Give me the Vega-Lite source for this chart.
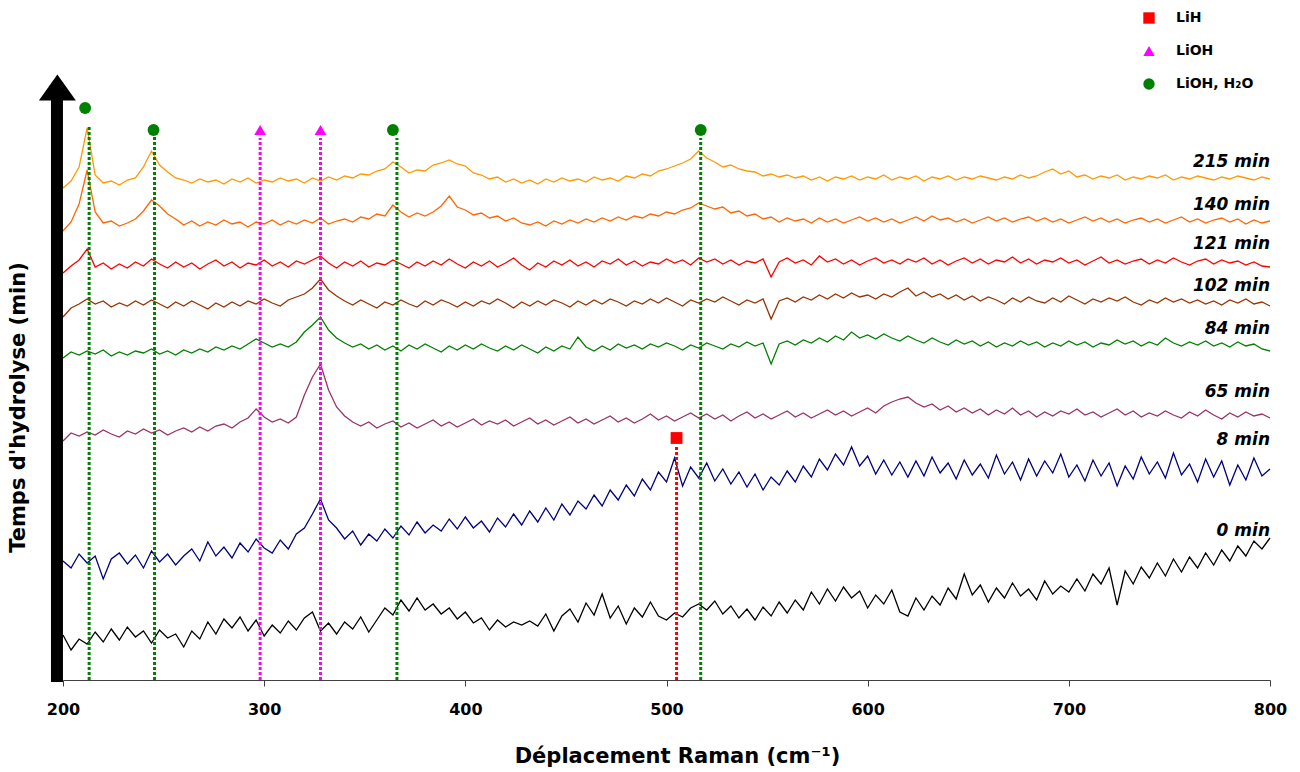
{
"$schema": "https://vega.github.io/schema/vega-lite/v6.json",
"width": 1207, "height": 670,
"autosize": {"type": "none"},
"padding": {"left": 63, "top": 10, "right": 30, "bottom": 92},
"background": "white",
"config": {"view": {"stroke": null}, "font": "DejaVu Sans"},
"datasets": {
"spectres": [
{"x":200,"a":492,"b":449,"c":407,"d":363,"e":322,"f":239,"g":119,"h":45},
{"x":204,"a":499,"b":458,"c":414,"d":372,"e":328,"f":247,"g":112,"h":30},
{"x":208,"a":513,"b":476,"c":420,"d":376,"e":325,"f":244,"g":126,"h":41},
{"x":212,"a":552,"b":510,"c":431,"d":381,"e":329,"f":248,"g":117,"h":36},
{"x":216,"a":505,"b":468,"c":413,"d":376,"e":326,"f":245,"g":124,"h":48},
{"x":220,"a":497,"b":457,"c":417,"d":379,"e":330,"f":250,"g":101,"h":38},
{"x":224,"a":499,"b":459,"c":411,"d":373,"e":324,"f":246,"g":121,"h":51},
{"x":228,"a":495,"b":454,"c":416,"d":377,"e":328,"f":243,"g":127,"h":40},
{"x":232,"a":500,"b":457,"c":412,"d":374,"e":325,"f":249,"g":116,"h":53},
{"x":236,"a":502,"b":461,"c":418,"d":379,"e":329,"f":246,"g":125,"h":43},
{"x":240,"a":513,"b":469,"c":414,"d":375,"e":327,"f":251,"g":112,"h":49},
{"x":244,"a":529,"b":480,"c":421,"d":380,"e":331,"f":247,"g":129,"h":37},
{"x":248,"a":515,"b":474,"c":416,"d":376,"e":326,"f":250,"g":118,"h":50},
{"x":252,"a":508,"b":466,"c":412,"d":372,"e":329,"f":245,"g":126,"h":42},
{"x":256,"a":502,"b":461,"c":418,"d":378,"e":325,"f":249,"g":115,"h":46},
{"x":260,"a":500,"b":455,"c":413,"d":374,"e":330,"f":252,"g":124,"h":33},
{"x":264,"a":497,"b":459,"c":417,"d":379,"e":327,"f":248,"g":131,"h":49},
{"x":268,"a":501,"b":454,"c":411,"d":375,"e":331,"f":253,"g":119,"h":41},
{"x":272,"a":498,"b":458,"c":416,"d":371,"e":328,"f":249,"g":138,"h":58},
{"x":276,"a":500,"b":455,"c":420,"d":377,"e":333,"f":254,"g":124,"h":46},
{"x":280,"a":496,"b":460,"c":414,"d":373,"e":330,"f":256,"g":133,"h":61},
{"x":284,"a":501,"b":456,"c":418,"d":378,"e":334,"f":252,"g":122,"h":52},
{"x":288,"a":498,"b":458,"c":412,"d":374,"e":331,"f":258,"g":137,"h":63},
{"x":292,"a":502,"b":453,"c":417,"d":379,"e":336,"f":262,"g":128,"h":49},
{"x":296,"a":497,"b":458,"c":415,"d":376,"e":341,"f":271,"g":141,"h":60},
{"x":300,"a":500,"b":456,"c":420,"d":381,"e":337,"f":263,"g":132,"h":44},
{"x":304,"a":498,"b":460,"c":414,"d":377,"e":333,"f":258,"g":127,"h":55},
{"x":308,"a":502,"b":455,"c":418,"d":374,"e":336,"f":261,"g":140,"h":47},
{"x":312,"a":499,"b":459,"c":413,"d":380,"e":333,"f":257,"g":131,"h":59},
{"x":316,"a":501,"b":456,"c":419,"d":383,"e":338,"f":263,"g":146,"h":50},
{"x":320,"a":497,"b":460,"c":416,"d":386,"e":348,"f":285,"g":152,"h":62},
{"x":324,"a":502,"b":457,"c":420,"d":392,"e":355,"f":303,"g":166,"h":68},
{"x":328,"a":499,"b":462,"c":424,"d":401,"e":363,"f":316,"g":181,"h":49},
{"x":332,"a":503,"b":456,"c":417,"d":390,"e":350,"f":290,"g":160,"h":57},
{"x":336,"a":500,"b":459,"c":412,"d":384,"e":342,"f":273,"g":152,"h":46},
{"x":340,"a":504,"b":461,"c":418,"d":379,"e":337,"f":264,"g":141,"h":58},
{"x":344,"a":502,"b":458,"c":414,"d":375,"e":333,"f":258,"g":149,"h":51},
{"x":348,"a":506,"b":463,"c":419,"d":380,"e":336,"f":254,"g":135,"h":63},
{"x":352,"a":505,"b":461,"c":413,"d":376,"e":331,"f":258,"g":146,"h":48},
{"x":356,"a":509,"b":466,"c":417,"d":372,"e":335,"f":252,"g":139,"h":60},
{"x":360,"a":511,"b":464,"c":415,"d":378,"e":330,"f":256,"g":151,"h":72},
{"x":364,"a":518,"b":475,"c":420,"d":375,"e":334,"f":259,"g":142,"h":65},
{"x":368,"a":513,"b":468,"c":416,"d":380,"e":329,"f":253,"g":154,"h":80},
{"x":372,"a":507,"b":463,"c":412,"d":376,"e":335,"f":257,"g":145,"h":69},
{"x":376,"a":510,"b":467,"c":418,"d":373,"e":331,"f":252,"g":158,"h":82},
{"x":380,"a":509,"b":464,"c":414,"d":379,"e":336,"f":256,"g":147,"h":70},
{"x":384,"a":515,"b":468,"c":419,"d":375,"e":332,"f":260,"g":155,"h":76},
{"x":388,"a":517,"b":474,"c":415,"d":380,"e":328,"f":254,"g":149,"h":66},
{"x":392,"a":520,"b":484,"c":421,"d":377,"e":334,"f":258,"g":161,"h":72},
{"x":396,"a":516,"b":473,"c":416,"d":373,"e":330,"f":253,"g":151,"h":61},
{"x":400,"a":514,"b":470,"c":412,"d":378,"e":335,"f":257,"g":163,"h":68},
{"x":404,"a":507,"b":465,"c":418,"d":374,"e":331,"f":261,"g":152,"h":57},
{"x":408,"a":505,"b":467,"c":414,"d":379,"e":336,"f":255,"g":159,"h":62},
{"x":412,"a":501,"b":462,"c":419,"d":376,"e":332,"f":259,"g":148,"h":50},
{"x":416,"a":503,"b":464,"c":413,"d":381,"e":329,"f":256,"g":162,"h":60},
{"x":420,"a":498,"b":459,"c":417,"d":377,"e":334,"f":260,"g":153,"h":53},
{"x":424,"a":501,"b":462,"c":422,"d":372,"e":330,"f":254,"g":166,"h":58},
{"x":428,"a":497,"b":457,"c":415,"d":378,"e":335,"f":258,"g":155,"h":55},
{"x":432,"a":500,"b":455,"c":410,"d":374,"e":331,"f":262,"g":169,"h":59},
{"x":436,"a":496,"b":458,"c":417,"d":379,"e":327,"f":256,"g":158,"h":54},
{"x":440,"a":501,"b":454,"c":413,"d":375,"e":333,"f":260,"g":172,"h":66},
{"x":444,"a":498,"b":459,"c":419,"d":380,"e":329,"f":255,"g":160,"h":49},
{"x":448,"a":502,"b":456,"c":415,"d":377,"e":334,"f":259,"g":176,"h":64},
{"x":452,"a":499,"b":460,"c":420,"d":373,"e":331,"f":263,"g":165,"h":71},
{"x":456,"a":501,"b":457,"c":414,"d":379,"e":343,"f":257,"g":179,"h":58},
{"x":460,"a":498,"b":461,"c":418,"d":375,"e":333,"f":261,"g":171,"h":77},
{"x":464,"a":503,"b":458,"c":413,"d":380,"e":329,"f":256,"g":185,"h":65},
{"x":468,"a":500,"b":462,"c":419,"d":376,"e":334,"f":260,"g":174,"h":86},
{"x":472,"a":502,"b":459,"c":416,"d":381,"e":330,"f":264,"g":190,"h":62},
{"x":476,"a":499,"b":463,"c":421,"d":378,"e":336,"f":258,"g":180,"h":74},
{"x":480,"a":504,"b":460,"c":415,"d":374,"e":332,"f":262,"g":195,"h":56},
{"x":484,"a":502,"b":464,"c":419,"d":379,"e":335,"f":257,"g":184,"h":72},
{"x":488,"a":506,"b":462,"c":414,"d":376,"e":331,"f":261,"g":201,"h":63},
{"x":492,"a":504,"b":466,"c":418,"d":381,"e":336,"f":266,"g":190,"h":78},
{"x":496,"a":509,"b":464,"c":416,"d":377,"e":333,"f":260,"g":208,"h":64},
{"x":500,"a":511,"b":468,"c":421,"d":382,"e":337,"f":264,"g":198,"h":60},
{"x":504,"a":514,"b":466,"c":417,"d":378,"e":334,"f":259,"g":222,"h":67},
{"x":508,"a":517,"b":470,"c":420,"d":374,"e":330,"f":263,"g":194,"h":63},
{"x":512,"a":521,"b":472,"c":415,"d":380,"e":335,"f":267,"g":213,"h":72},
{"x":516,"a":529,"b":477,"c":422,"d":377,"e":332,"f":262,"g":202,"h":76},
{"x":520,"a":522,"b":474,"c":418,"d":381,"e":337,"f":266,"g":217,"h":70},
{"x":524,"a":518,"b":471,"c":421,"d":378,"e":334,"f":261,"g":199,"h":79},
{"x":528,"a":513,"b":473,"c":416,"d":383,"e":331,"f":265,"g":211,"h":66},
{"x":532,"a":515,"b":467,"c":420,"d":379,"e":336,"f":259,"g":196,"h":74},
{"x":536,"a":511,"b":469,"c":415,"d":375,"e":333,"f":264,"g":208,"h":62},
{"x":540,"a":509,"b":464,"c":419,"d":380,"e":338,"f":268,"g":193,"h":71},
{"x":544,"a":508,"b":466,"c":417,"d":377,"e":334,"f":262,"g":206,"h":60},
{"x":548,"a":504,"b":461,"c":421,"d":381,"e":337,"f":266,"g":190,"h":73},
{"x":552,"a":506,"b":463,"c":403,"d":361,"e":316,"f":261,"g":203,"h":64},
{"x":556,"a":503,"b":458,"c":418,"d":379,"e":336,"f":265,"g":195,"h":78},
{"x":560,"a":505,"b":462,"c":422,"d":382,"e":339,"f":269,"g":209,"h":67},
{"x":564,"a":502,"b":459,"c":417,"d":378,"e":335,"f":263,"g":198,"h":80},
{"x":568,"a":504,"b":461,"c":420,"d":383,"e":340,"f":267,"g":214,"h":70},
{"x":572,"a":500,"b":457,"c":415,"d":380,"e":337,"f":262,"g":203,"h":88},
{"x":576,"a":503,"b":462,"c":424,"d":385,"e":342,"f":266,"g":221,"h":76},
{"x":580,"a":499,"b":458,"c":418,"d":381,"e":338,"f":270,"g":210,"h":91},
{"x":584,"a":503,"b":461,"c":421,"d":386,"e":344,"f":265,"g":226,"h":79},
{"x":588,"a":501,"b":457,"c":416,"d":382,"e":340,"f":269,"g":215,"h":93},
{"x":592,"a":504,"b":460,"c":420,"d":387,"e":348,"f":264,"g":233,"h":82},
{"x":596,"a":500,"b":463,"c":415,"d":383,"e":342,"f":268,"g":214,"h":89},
{"x":600,"a":503,"b":459,"c":419,"d":385,"e":345,"f":272,"g":224,"h":72},
{"x":604,"a":501,"b":462,"c":422,"d":381,"e":341,"f":267,"g":206,"h":85},
{"x":608,"a":505,"b":458,"c":417,"d":386,"e":346,"f":274,"g":220,"h":76},
{"x":612,"a":500,"b":461,"c":420,"d":383,"e":342,"f":278,"g":205,"h":90},
{"x":616,"a":503,"b":457,"c":416,"d":388,"e":339,"f":281,"g":218,"h":68},
{"x":620,"a":501,"b":460,"c":421,"d":392,"e":344,"f":283,"g":203,"h":64},
{"x":624,"a":504,"b":463,"c":418,"d":384,"e":340,"f":277,"g":219,"h":82},
{"x":628,"a":499,"b":459,"c":422,"d":388,"e":337,"f":273,"g":204,"h":70},
{"x":632,"a":503,"b":464,"c":416,"d":383,"e":342,"f":276,"g":223,"h":84},
{"x":636,"a":501,"b":460,"c":420,"d":386,"e":338,"f":270,"g":207,"h":75},
{"x":640,"a":504,"b":462,"c":415,"d":381,"e":335,"f":274,"g":217,"h":92},
{"x":644,"a":500,"b":458,"c":419,"d":385,"e":340,"f":268,"g":201,"h":81},
{"x":648,"a":503,"b":461,"c":422,"d":380,"e":336,"f":272,"g":220,"h":106},
{"x":652,"a":501,"b":457,"c":417,"d":384,"e":339,"f":267,"g":205,"h":85},
{"x":656,"a":504,"b":460,"c":421,"d":379,"e":334,"f":271,"g":216,"h":95},
{"x":660,"a":502,"b":463,"c":416,"d":383,"e":338,"f":265,"g":202,"h":78},
{"x":664,"a":500,"b":459,"c":420,"d":380,"e":333,"f":270,"g":225,"h":92},
{"x":668,"a":503,"b":462,"c":418,"d":376,"e":337,"f":266,"g":206,"h":82},
{"x":672,"a":501,"b":458,"c":423,"d":382,"e":334,"f":272,"g":218,"h":97},
{"x":676,"a":505,"b":461,"c":417,"d":378,"e":339,"f":265,"g":200,"h":84},
{"x":680,"a":502,"b":463,"c":421,"d":383,"e":335,"f":269,"g":221,"h":91},
{"x":684,"a":504,"b":459,"c":416,"d":379,"e":338,"f":263,"g":204,"h":80},
{"x":688,"a":508,"b":462,"c":420,"d":377,"e":333,"f":268,"g":219,"h":99},
{"x":692,"a":511,"b":458,"c":418,"d":382,"e":337,"f":264,"g":207,"h":86},
{"x":696,"a":506,"b":461,"c":422,"d":378,"e":334,"f":269,"g":226,"h":94},
{"x":700,"a":509,"b":457,"c":417,"d":384,"e":339,"f":266,"g":203,"h":88},
{"x":704,"a":503,"b":460,"c":420,"d":380,"e":335,"f":271,"g":215,"h":101},
{"x":708,"a":505,"b":463,"c":415,"d":376,"e":338,"f":265,"g":199,"h":89},
{"x":712,"a":501,"b":459,"c":419,"d":381,"e":333,"f":268,"g":220,"h":106},
{"x":716,"a":504,"b":462,"c":423,"d":378,"e":337,"f":263,"g":204,"h":96},
{"x":720,"a":502,"b":458,"c":417,"d":382,"e":335,"f":267,"g":217,"h":112},
{"x":724,"a":505,"b":461,"c":420,"d":379,"e":340,"f":271,"g":194,"h":75},
{"x":728,"a":500,"b":457,"c":416,"d":383,"e":336,"f":265,"g":214,"h":109},
{"x":732,"a":503,"b":460,"c":419,"d":378,"e":339,"f":269,"g":201,"h":96},
{"x":736,"a":501,"b":462,"c":421,"d":375,"e":334,"f":263,"g":223,"h":113},
{"x":740,"a":504,"b":458,"c":416,"d":380,"e":338,"f":267,"g":206,"h":102},
{"x":744,"a":502,"b":461,"c":420,"d":377,"e":335,"f":264,"g":218,"h":117},
{"x":748,"a":505,"b":457,"c":417,"d":382,"e":342,"f":269,"g":202,"h":104},
{"x":752,"a":500,"b":460,"c":422,"d":378,"e":337,"f":265,"g":227,"h":121},
{"x":756,"a":503,"b":463,"c":418,"d":381,"e":334,"f":262,"g":205,"h":108},
{"x":760,"a":501,"b":458,"c":415,"d":377,"e":338,"f":268,"g":216,"h":123},
{"x":764,"a":504,"b":461,"c":419,"d":380,"e":335,"f":264,"g":198,"h":112},
{"x":768,"a":502,"b":457,"c":421,"d":376,"e":339,"f":270,"g":221,"h":127},
{"x":772,"a":500,"b":460,"c":416,"d":379,"e":334,"f":265,"g":203,"h":115},
{"x":776,"a":503,"b":462,"c":420,"d":375,"e":337,"f":261,"g":219,"h":130},
{"x":780,"a":501,"b":458,"c":417,"d":380,"e":333,"f":267,"g":195,"h":119},
{"x":784,"a":504,"b":461,"c":419,"d":377,"e":338,"f":263,"g":215,"h":134},
{"x":788,"a":502,"b":456,"c":415,"d":381,"e":334,"f":268,"g":200,"h":124},
{"x":792,"a":500,"b":460,"c":418,"d":376,"e":336,"f":264,"g":222,"h":139},
{"x":796,"a":503,"b":457,"c":414,"d":378,"e":331,"f":266,"g":204,"h":131},
{"x":800,"a":501,"b":459,"c":413,"d":374,"e":329,"f":262,"g":211,"h":142}
],
"raies": [
{"x":213,"y":0,"top":555,"type":"LiOH, H₂O"},
{"x":245.5,"y":0,"top":543,"type":"LiOH, H₂O"},
{"x":366,"y":0,"top":542,"type":"LiOH, H₂O"},
{"x":517,"y":0,"top":542,"type":"LiOH, H₂O"},
{"x":298,"y":0,"top":542,"type":"LiOH"},
{"x":328,"y":0,"top":542,"type":"LiOH"},
{"x":505,"y":0,"top":233,"type":"LiH"}
],
"pics": [
{"x":211,"y":572,"type":"LiOH, H₂O"},
{"x":245,"y":550,"type":"LiOH, H₂O"},
{"x":364,"y":550,"type":"LiOH, H₂O"},
{"x":517,"y":550,"type":"LiOH, H₂O"},
{"x":298,"y":550,"type":"LiOH"},
{"x":328,"y":550,"type":"LiOH"},
{"x":505,"y":242,"type":"LiH"}
],
"etiquettes": [
{"lab":"215 min","x":800,"y":518},
{"lab":"140 min","x":800,"y":475},
{"lab":"121 min","x":800,"y":436},
{"lab":"102 min","x":800,"y":394},
{"lab":"84 min","x":800,"y":351},
{"lab":"65 min","x":800,"y":288},
{"lab":"8 min","x":800,"y":240},
{"lab":"0 min","x":800,"y":149}
],
"fleche": [{"x":197,"y":-2,"top":582}],
"pointe": [{"x":197.2,"y":587}]
},
"encoding": {
"x": {"field": "x", "type": "quantitative", "scale": {"domain": [200, 800], "nice": false, "zero": false},
 "axis": {"values": [200, 300, 400, 500, 600, 700, 800], "format": "d", "grid": false, "domainColor": "#404040", "domainWidth": 1, "tickColor": "#404040", "tickSize": 6, "labelFont": "DejaVu Sans", "labelFontWeight": "bold", "labelFontSize": 16, "labelColor": "black", "labelPadding": 15, "labelFlush": false,
 "title": "Déplacement Raman (cm⁻¹)", "titleFont": "DejaVu Sans", "titleFontWeight": "bold", "titleFontSize": 21, "titleColor": "black", "titlePadding": 28, "titleX": 614, "titleAlign": "center"}},
"y": {"field": "y", "type": "quantitative", "scale": {"domain": [0, 670], "nice": false, "zero": false},
 "axis": {"domain": false, "ticks": false, "labels": false, "grid": false, "title": "Temps d'hydrolyse (min)", "titleFont": "DejaVu Sans", "titleFontWeight": "bold", "titleFontSize": 21, "titleColor": "black", "titleX": -45, "titleY": 397, "titleAngle": -90, "titleAlign": "center", "titleBaseline": "middle"}}
},
"resolve": {"scale": {"color": "independent", "shape": "independent"}},
"layer": [
{
"data": {"name": "spectres"},
"transform": [{"fold": ["a", "b", "c", "d", "e", "f", "g", "h"], "as": ["serie", "y"]}],
"mark": {"type": "line", "strokeWidth": 1.3},
"encoding": {
"color": {"field": "serie", "type": "nominal", "scale": {"domain": ["a", "b", "c", "d", "e", "f", "g", "h"], "range": ["#FF9900", "#FF6600", "#FF0000", "#993300", "#008000", "#993366", "#000080", "#000000"]}, "legend": null}
}
},
{
"data": {"name": "raies"},
"mark": {"type": "rule", "strokeWidth": 3, "strokeDash": [3, 2]},
"encoding": {
"y2": {"field": "top"},
"color": {"field": "type", "type": "nominal", "scale": {"domain": ["LiH", "LiOH", "LiOH, H₂O"], "range": ["#FF0000", "#FF00FF", "#008000"]}, "legend": null}
}
},
{
"data": {"name": "pics"},
"mark": {"type": "point", "filled": true, "opacity": 1, "size": 140},
"encoding": {
"color": {"field": "type", "type": "nominal", "scale": {"domain": ["LiH", "LiOH", "LiOH, H₂O"], "range": ["#FF0000", "#FF00FF", "#008000"]},
 "legend": {"title": null, "orient": "none", "legendX": 1079, "legendY": 1, "padding": 0, "labelFont": "DejaVu Sans", "labelFontWeight": "bold", "labelFontSize": 14, "labelColor": "black", "labelOffset": 20, "symbolSize": 130, "symbolStrokeWidth": 0, "rowPadding": 19, "symbolOpacity": 1}},
"shape": {"field": "type", "type": "nominal", "scale": {"domain": ["LiH", "LiOH", "LiOH, H₂O"], "range": ["square", "triangle-up", "circle"]},
 "legend": {"title": null, "orient": "none", "legendX": 1079, "legendY": 1, "padding": 0, "labelFont": "DejaVu Sans", "labelFontWeight": "bold", "labelFontSize": 14, "labelColor": "black", "labelOffset": 20, "symbolSize": 130, "symbolStrokeWidth": 0, "rowPadding": 19, "symbolOpacity": 1}}
}
},
{
"data": {"name": "fleche"},
"mark": {"type": "rule", "color": "black", "strokeWidth": 12},
"encoding": {"y2": {"field": "top"}}
},
{
"data": {"name": "pointe"},
"mark": {"type": "point", "filled": true, "opacity": 1, "color": "black", "size": 1369, "shape": "M-1,0.4L1,0.4L0,-1Z"},
"encoding": {}
},
{
"data": {"name": "etiquettes"},
"mark": {"type": "text", "align": "right", "baseline": "middle", "font": "DejaVu Sans", "fontStyle": "italic", "fontWeight": "bold", "fontSize": 17, "color": "black"},
"encoding": {"text": {"field": "lab"}}
}
]
}
